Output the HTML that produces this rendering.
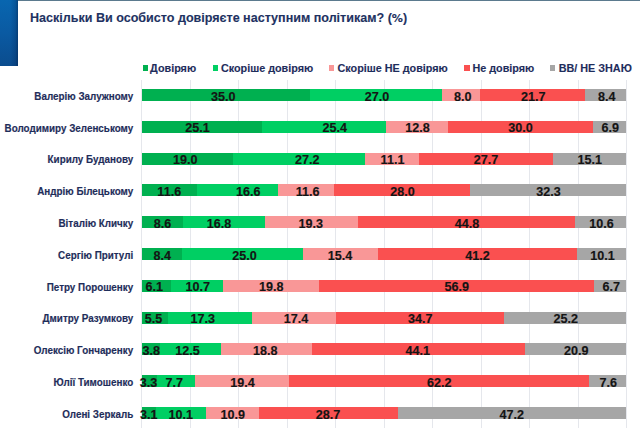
<!DOCTYPE html>
<html><head><meta charset="utf-8"><style>
*{margin:0;padding:0;box-sizing:border-box}
html,body{width:640px;height:428px;overflow:hidden;background:#fff}
body{position:relative;font-family:"Liberation Sans",Arial,sans-serif;font-weight:bold}
.topline{position:absolute;left:0;top:0;width:640px;height:1px;background:#5b7a8e}
.blk{position:absolute;left:0;top:0;width:18px;height:65.6px;background:linear-gradient(to right,rgba(0,20,60,0) 0%,rgba(0,20,60,0) 55%,rgba(0,20,60,.18) 85%,rgba(0,15,50,.4) 100%),linear-gradient(to bottom,#0866b0,#0a5aa2 50%,#0b4c8e)}
.title{position:absolute;left:30px;top:9.4px;font-size:12.55px;color:#1e3262;-webkit-text-stroke:0.12px #1e3262;white-space:nowrap;line-height:18px}
.lg{position:absolute;top:61.1px;font-size:10.8px;color:#1e2d5c;-webkit-text-stroke:0.12px #1e2d5c;white-space:nowrap;line-height:14px}
.sq{position:absolute;top:64.7px;width:5.2px;height:6px}
.gl{position:absolute;top:80px;width:1px;height:348px;background:#e5e7ec}
.lb{position:absolute;right:506.8px;font-size:9.86px;color:#1e2d5a;white-space:nowrap;line-height:14px;text-align:right;-webkit-text-stroke:0.15px #1e2d5a;transform:scaleY(1.07);transform-origin:50% 70%}
.bar{position:absolute;height:12px}
.v{position:absolute;font-size:12.6px;color:#141414;white-space:nowrap;line-height:14px;text-align:center;width:40px;-webkit-text-stroke:0.15px #141414;transform:scaleY(1.08);transform-origin:50% 60%}
</style></head><body>
<div class="topline"></div>
<div class="blk"></div>
<div class="title">Наскільки Ви особисто довіряєте наступним політикам? (<span style="font-family:'DejaVu Sans',sans-serif;font-size:11.1px">%</span>)</div>

<div class="sq" style="left:142.5px;background:#00b050"></div>
<div class="lg" style="left:150.1px">Довіряю</div>
<div class="sq" style="left:212.9px;background:#00cf63"></div>
<div class="lg" style="left:220.9px">Скоріше довіряю</div>
<div class="sq" style="left:329.1px;background:#f99797"></div>
<div class="lg" style="left:337.5px">Скоріше НЕ довіряю</div>
<div class="sq" style="left:464.4px;background:#fa5050"></div>
<div class="lg" style="left:472.4px">Не довіряю</div>
<div class="sq" style="left:550.1px;background:#a6a6a6"></div>
<div class="lg" style="left:558.7px">ВВ/ НЕ ЗНАЮ</div>
<div class="gl" style="left:141.0px"></div>
<div class="gl" style="left:189.5px"></div>
<div class="gl" style="left:238.0px"></div>
<div class="gl" style="left:286.5px"></div>
<div class="gl" style="left:335.0px"></div>
<div class="gl" style="left:383.5px"></div>
<div class="gl" style="left:432.0px"></div>
<div class="gl" style="left:480.5px"></div>
<div class="gl" style="left:529.0px"></div>
<div class="gl" style="left:577.5px"></div>
<div class="gl" style="left:626.0px"></div>
<div class="lb" style="top:89.8px">Валерію Залужному</div>
<div class="bar" style="left:142.00px;top:89.0px;width:168.43px;background:#00b050"></div>
<div class="bar" style="left:310.43px;top:89.0px;width:131.35px;background:#00cf63"></div>
<div class="bar" style="left:441.78px;top:89.0px;width:38.68px;background:#f99797"></div>
<div class="bar" style="left:480.46px;top:89.0px;width:104.92px;background:#fa5050"></div>
<div class="bar" style="left:585.38px;top:89.0px;width:40.62px;background:#a6a6a6"></div>
<div class="v" style="left:203.38px;top:89.5px">35.0</div>
<div class="v" style="left:357.12px;top:89.5px">27.0</div>
<div class="v" style="left:442.70px;top:89.5px">8.0</div>
<div class="v" style="left:513.25px;top:89.5px">21.7</div>
<div class="v" style="left:586.65px;top:89.5px">8.4</div>
<div class="lb" style="top:121.6px">Володимиру Зеленському</div>
<div class="bar" style="left:142.00px;top:120.8px;width:120.44px;background:#00b050"></div>
<div class="bar" style="left:262.44px;top:120.8px;width:123.49px;background:#00cf63"></div>
<div class="bar" style="left:385.93px;top:120.8px;width:61.83px;background:#f99797"></div>
<div class="bar" style="left:447.76px;top:120.8px;width:144.91px;background:#fa5050"></div>
<div class="bar" style="left:592.67px;top:120.8px;width:33.33px;background:#a6a6a6"></div>
<div class="v" style="left:177.50px;top:121.3px">25.1</div>
<div class="v" style="left:314.88px;top:121.3px">25.4</div>
<div class="v" style="left:397.50px;top:121.3px">12.8</div>
<div class="v" style="left:500.50px;top:121.3px">30.0</div>
<div class="v" style="left:590.15px;top:121.3px">6.9</div>
<div class="lb" style="top:153.4px">Кирилу Буданову</div>
<div class="bar" style="left:142.00px;top:152.6px;width:91.07px;background:#00b050"></div>
<div class="bar" style="left:233.07px;top:152.6px;width:132.32px;background:#00cf63"></div>
<div class="bar" style="left:365.38px;top:152.6px;width:53.67px;background:#f99797"></div>
<div class="bar" style="left:419.05px;top:152.6px;width:133.93px;background:#fa5050"></div>
<div class="bar" style="left:552.99px;top:152.6px;width:73.01px;background:#a6a6a6"></div>
<div class="v" style="left:165.38px;top:153.1px">19.0</div>
<div class="v" style="left:287.20px;top:153.1px">27.2</div>
<div class="v" style="left:372.50px;top:153.1px">11.1</div>
<div class="v" style="left:466.05px;top:153.1px">27.7</div>
<div class="v" style="left:569.65px;top:153.1px">15.1</div>
<div class="lb" style="top:185.2px">Андрію Білецькому</div>
<div class="bar" style="left:142.00px;top:184.4px;width:55.29px;background:#00b050"></div>
<div class="bar" style="left:197.29px;top:184.4px;width:81.06px;background:#00cf63"></div>
<div class="bar" style="left:278.35px;top:184.4px;width:56.09px;background:#f99797"></div>
<div class="bar" style="left:334.44px;top:184.4px;width:135.38px;background:#fa5050"></div>
<div class="bar" style="left:469.82px;top:184.4px;width:156.18px;background:#a6a6a6"></div>
<div class="v" style="left:149.25px;top:184.9px">11.6</div>
<div class="v" style="left:228.32px;top:184.9px">16.6</div>
<div class="v" style="left:287.55px;top:184.9px">11.6</div>
<div class="v" style="left:382.50px;top:184.9px">28.0</div>
<div class="v" style="left:528.45px;top:184.9px">32.3</div>
<div class="lb" style="top:217.0px">Віталію Кличку</div>
<div class="bar" style="left:142.00px;top:216.2px;width:40.78px;background:#00b050"></div>
<div class="bar" style="left:182.78px;top:216.2px;width:82.03px;background:#00cf63"></div>
<div class="bar" style="left:264.81px;top:216.2px;width:93.32px;background:#f99797"></div>
<div class="bar" style="left:358.13px;top:216.2px;width:216.62px;background:#fa5050"></div>
<div class="bar" style="left:574.75px;top:216.2px;width:51.25px;background:#a6a6a6"></div>
<div class="v" style="left:142.50px;top:216.7px">8.6</div>
<div class="v" style="left:199.00px;top:216.7px">16.8</div>
<div class="v" style="left:290.70px;top:216.7px">19.3</div>
<div class="v" style="left:446.95px;top:216.7px">44.8</div>
<div class="v" style="left:581.60px;top:216.7px">10.6</div>
<div class="lb" style="top:248.8px">Сергію Притулі</div>
<div class="bar" style="left:142.00px;top:248.0px;width:39.82px;background:#00b050"></div>
<div class="bar" style="left:181.82px;top:248.0px;width:121.68px;background:#00cf63"></div>
<div class="bar" style="left:303.49px;top:248.0px;width:74.46px;background:#f99797"></div>
<div class="bar" style="left:377.96px;top:248.0px;width:199.21px;background:#fa5050"></div>
<div class="bar" style="left:577.16px;top:248.0px;width:48.84px;background:#a6a6a6"></div>
<div class="v" style="left:142.25px;top:248.5px">8.4</div>
<div class="v" style="left:224.62px;top:248.5px">25.0</div>
<div class="v" style="left:320.00px;top:248.5px">15.4</div>
<div class="v" style="left:457.55px;top:248.5px">41.2</div>
<div class="v" style="left:582.45px;top:248.5px">10.1</div>
<div class="lb" style="top:280.6px">Петру Порошенку</div>
<div class="bar" style="left:142.00px;top:279.8px;width:28.67px;background:#00b050"></div>
<div class="bar" style="left:170.67px;top:279.8px;width:52.48px;background:#00cf63"></div>
<div class="bar" style="left:223.15px;top:279.8px;width:95.64px;background:#f99797"></div>
<div class="bar" style="left:318.79px;top:279.8px;width:274.85px;background:#fa5050"></div>
<div class="bar" style="left:593.64px;top:279.8px;width:32.36px;background:#a6a6a6"></div>
<div class="v" style="left:134.25px;top:280.3px">6.1</div>
<div class="v" style="left:177.88px;top:280.3px">10.7</div>
<div class="v" style="left:251.25px;top:280.3px">19.8</div>
<div class="v" style="left:436.75px;top:280.3px">56.9</div>
<div class="v" style="left:591.25px;top:280.3px">6.7</div>
<div class="lb" style="top:312.4px">Дмитру Разумкову</div>
<div class="bar" style="left:142.00px;top:311.6px;width:25.79px;background:#00b050"></div>
<div class="bar" style="left:167.79px;top:311.6px;width:84.45px;background:#00cf63"></div>
<div class="bar" style="left:252.24px;top:311.6px;width:84.13px;background:#f99797"></div>
<div class="bar" style="left:336.37px;top:311.6px;width:167.78px;background:#fa5050"></div>
<div class="bar" style="left:504.15px;top:311.6px;width:121.85px;background:#a6a6a6"></div>
<div class="v" style="left:133.50px;top:312.1px">5.5</div>
<div class="v" style="left:182.75px;top:312.1px">17.3</div>
<div class="v" style="left:276.00px;top:312.1px">17.4</div>
<div class="v" style="left:400.38px;top:312.1px">34.7</div>
<div class="v" style="left:545.80px;top:312.1px">25.2</div>
<div class="lb" style="top:344.2px">Олексію Гончаренку</div>
<div class="bar" style="left:142.00px;top:343.4px;width:17.57px;background:#00b050"></div>
<div class="bar" style="left:159.57px;top:343.4px;width:61.24px;background:#00cf63"></div>
<div class="bar" style="left:220.81px;top:343.4px;width:90.90px;background:#f99797"></div>
<div class="bar" style="left:311.71px;top:343.4px;width:213.23px;background:#fa5050"></div>
<div class="bar" style="left:524.95px;top:343.4px;width:101.05px;background:#a6a6a6"></div>
<div class="v" style="left:131.25px;top:343.9px">3.8</div>
<div class="v" style="left:167.50px;top:343.9px">12.5</div>
<div class="v" style="left:245.38px;top:343.9px">18.8</div>
<div class="v" style="left:397.88px;top:343.9px">44.1</div>
<div class="v" style="left:556.25px;top:343.9px">20.9</div>
<div class="lb" style="top:376.0px">Юлії Тимошенко</div>
<div class="bar" style="left:142.00px;top:375.2px;width:15.14px;background:#00b050"></div>
<div class="bar" style="left:157.14px;top:375.2px;width:37.99px;background:#00cf63"></div>
<div class="bar" style="left:195.13px;top:375.2px;width:93.71px;background:#f99797"></div>
<div class="bar" style="left:288.84px;top:375.2px;width:300.45px;background:#fa5050"></div>
<div class="bar" style="left:589.29px;top:375.2px;width:36.71px;background:#a6a6a6"></div>
<div class="v" style="left:128.62px;top:375.7px">3.3</div>
<div class="v" style="left:154.38px;top:375.7px">7.7</div>
<div class="v" style="left:222.50px;top:375.7px">19.4</div>
<div class="v" style="left:419.38px;top:375.7px">62.2</div>
<div class="v" style="left:588.35px;top:375.7px">7.6</div>
<div class="lb" style="top:407.8px">Олені Зеркаль</div>
<div class="bar" style="left:142.00px;top:407.0px;width:14.20px;background:#00b050"></div>
<div class="bar" style="left:156.20px;top:407.0px;width:49.68px;background:#00cf63"></div>
<div class="bar" style="left:205.89px;top:407.0px;width:52.76px;background:#f99797"></div>
<div class="bar" style="left:258.64px;top:407.0px;width:138.91px;background:#fa5050"></div>
<div class="bar" style="left:397.55px;top:407.0px;width:228.45px;background:#a6a6a6"></div>
<div class="v" style="left:128.75px;top:407.5px">3.1</div>
<div class="v" style="left:160.88px;top:407.5px">10.1</div>
<div class="v" style="left:212.88px;top:407.5px">10.9</div>
<div class="v" style="left:308.12px;top:407.5px">28.7</div>
<div class="v" style="left:491.75px;top:407.5px">47.2</div>
</body></html>
